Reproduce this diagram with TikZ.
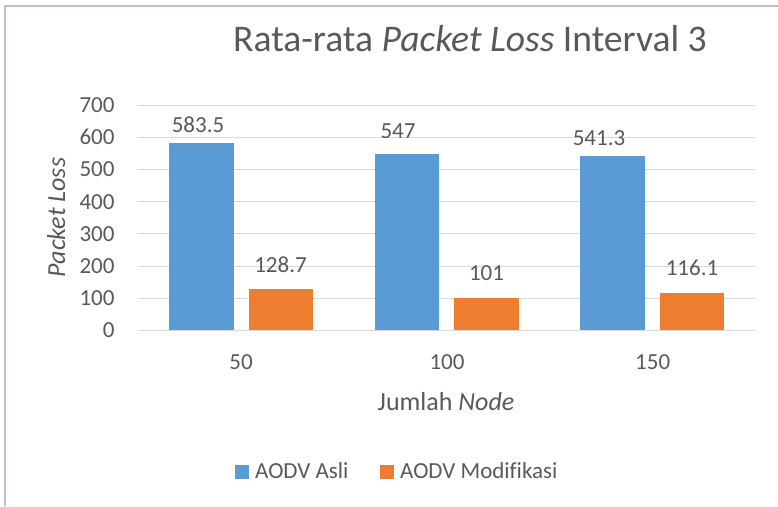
\documentclass[tikz,border=0pt]{standalone}
\usepackage{fontspec}
\setmainfont{Carlito}
\usepackage{xcolor}
\usepackage{tikz}
\definecolor{asliblue}{HTML}{5B9BD5}
\definecolor{modorange}{HTML}{ED7D31}
\definecolor{txtgray}{HTML}{595959}
\definecolor{gridgray}{HTML}{D9D9D9}
\definecolor{framegray}{HTML}{B4C2DA}

\begin{document}
\begin{tikzpicture}[x=1pt, y=-1pt,
		lbl/.style={text=txtgray, inner sep=0pt, font=\fontsize{23}{27}\selectfont},
		ticklbl/.style={lbl, anchor=east},
		axname/.style={text=txtgray, inner sep=0pt, font=\fontsize{26}{31}\selectfont},
		gridln/.style={draw=gridgray, line width=1pt},
		asli/.style={fill=asliblue, draw=none},
		modif/.style={fill=modorange, draw=none}]
		\useasboundingbox (0,0) rectangle (778,506);
		% chart frame
		\draw[framegray, line width=1.5pt] (5,506) -- (5,6) -- (778,6);
		% title
		\node[text=txtgray, inner sep=0pt, font=\fontsize{37.6}{45}\selectfont, anchor=base] (title) at (470,51.7) {Rata-rata \textit{Packet Loss} Interval 3};
		\begin{scope}[shift={(138pt,-330.5pt)}, y=0.3221pt]
			% gridlines and values
			\draw[gridln] (0,100) -- (617,100) (-23,100) node[ticklbl] (t100) {100};
			\draw[gridln] (0,200) -- (617,200) (-23,200) node[ticklbl] (t200) {200};
			\draw[gridln] (0,300) -- (617,300) (-23,300) node[ticklbl] (t300) {300};
			\draw[gridln] (0,400) -- (617,400) (-23,400) node[ticklbl] (t400) {400};
			\draw[gridln] (0,500) -- (617,500) (-23,500) node[ticklbl] (t500) {500};
			\draw[gridln] (0,600) -- (617,600) (-23,600) node[ticklbl] (t600) {600};
			\draw[gridln] (0,700) -- (617,700) (-23,700) node[ticklbl] (t700) {700};
			% bars
			\draw[asli] (31,0) rectangle ++(64.5,583.5);
			\draw[modif] (110.5,0) rectangle ++(64.5,128.7);
			\draw[asli] (236.7,0) rectangle ++(64.5,547);
			\draw[modif] (316.2,0) rectangle ++(64.5,101);
			\draw[asli] (442.4,0) rectangle ++(64.5,541.3);
			\draw[modif] (521.9,0) rectangle ++(64.5,116.1);
			% base axis
			\draw[gridln] (0,0) -- (617,0) (-23,0) node[ticklbl] (t0) {0};
		\end{scope}
		% bar values
		\node[lbl] (v1a) at (198,125) {583.5};
		\node[lbl] (v1m) at (280.5,265) {128.7};
		\node[lbl] (v2a) at (398,130.7) {547};
		\node[lbl] (v2m) at (486.5,272.7) {101};
		\node[lbl] (v3a) at (599,138.3) {541.3};
		\node[lbl] (v3m) at (692,268.3) {116.1};
		% categories
		\node[lbl, anchor=base] (c50) at (241,369) {50};
		\node[lbl, anchor=base] (c100) at (447,369) {100};
		\node[lbl, anchor=base] (c150) at (652.7,369) {150};
		% axis names
		\node[axname, anchor=base] (xname) at (446,410) {Jumlah \textit{Node}};
		\node[axname, anchor=base, rotate=90] (yname) at (65,217.5) {\textit{Packet Loss}};
		% legend
		\node[asli, minimum size=14pt, inner sep=0pt] (keyasli) at (242,472) {};
		\node[lbl, anchor=base west] (lasli) at (255,478) {AODV Asli};
		\node[modif, minimum size=14pt, inner sep=0pt] (keymod) at (387,472) {};
		\node[lbl, anchor=base west] (lmod) at (400,478) {\addfontfeature{Ligatures=NoCommon}AODV Modifikasi};
\end{tikzpicture}
\end{document}
